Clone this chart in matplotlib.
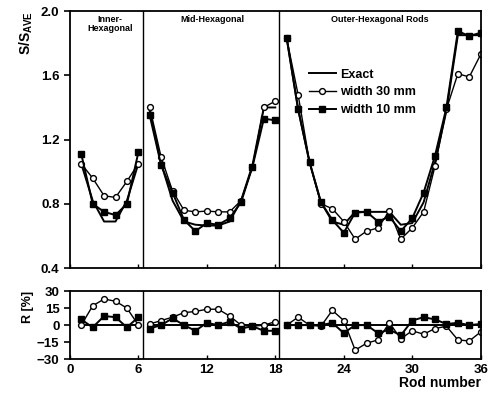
import numpy as np
import matplotlib.pyplot as plt

plt.rcParams['font.family'] = ['Liberation Sans', 'DejaVu Sans']
plt.rcParams['font.weight'] = 'bold'
plt.rcParams['mathtext.fontset'] = 'custom'
plt.rcParams['mathtext.rm'] = 'Liberation Sans:bold'
plt.rcParams['mathtext.it'] = 'Liberation Sans:bold'

rods = np.arange(1, 37)

# S/S_AVE, rods 1-36
exact = [1.05, 0.82, 0.69, 0.69, 0.82, 1.05,
         1.38, 1.05, 0.82, 0.69, 0.67, 0.665, 0.665, 0.69, 0.82, 1.04, 1.40, 1.40,
         1.83, 1.39, 1.06, 0.81, 0.69, 0.67, 0.75, 0.75, 0.75, 0.75, 0.67, 0.68,
         0.81, 1.06, 1.38, 1.85, 1.85, 1.85]
width30 = [1.05, 0.96, 0.85, 0.84, 0.94, 1.05,
           1.40, 1.09, 0.88, 0.76, 0.75, 0.755, 0.75, 0.75, 0.82, 1.03, 1.40, 1.44,
           1.83, 1.48, 1.06, 0.80, 0.77, 0.69, 0.58, 0.63, 0.65, 0.755, 0.58, 0.65,
           0.75, 1.035, 1.39, 1.61, 1.59, 1.73]
width10 = [1.11, 0.80, 0.75, 0.73, 0.80, 1.12,
           1.35, 1.04, 0.87, 0.70, 0.63, 0.68, 0.67, 0.71, 0.81, 1.03, 1.33, 1.32,
           1.835, 1.39, 1.06, 0.81, 0.70, 0.62, 0.745, 0.75, 0.69, 0.72, 0.63, 0.71,
           0.87, 1.10, 1.40, 1.875, 1.845, 1.865]

# R [%]
r30 = [0, 17, 23, 21, 15, 0,
       1, 4, 7, 11, 12, 14, 14, 8, 0, -1, 0, 3,
       0, 7, 0, -1, 13, 4, -22, -16, -13, 2, -12, -5, -8, -3, -1, -13, -14, -6]
r10 = [5, -2, 8, 7, -2, 7,
       -3, 0, 6, 0, -5, 2, 0, 3, -3, -1, -5, -5,
       0, 0, 0, 0, 2, -7, 0, 0, -7, -4, -9, 4, 7, 5, 1, 2, 0, 1]

sections = [(0, 6), (6, 18), (18, 36)]
section_names = ['Inner-\nHexagonal', 'Mid-Hexagonal', 'Outer-Hexagonal Rods']
section_centers = [3.5, 12.5, 27.2]
separators = [6.4, 18.3]

fig = plt.figure(figsize=(4.92, 3.96), dpi=100)
ax1 = fig.add_axes([0.142, 0.323, 0.835, 0.649])
ax2 = fig.add_axes([0.142, 0.093, 0.835, 0.172])

lw = 1.4
ms = 4.2
for i, (a, b) in enumerate(sections):
    x = rods[a:b]
    ax1.plot(x, exact[a:b], '-', color='black', lw=lw,
             label='Exact' if i == 0 else None)
    ax1.plot(x, width30[a:b], '-o', color='black', lw=1.0, ms=ms, mfc='white',
             mec='black', mew=1.0, label='width 30 mm' if i == 0 else None)
    ax1.plot(x, width10[a:b], '-s', color='black', lw=lw, ms=ms - 0.5,
             label='width 10 mm' if i == 0 else None)
    ax2.plot(x, np.zeros(b - a), '-', color='black', lw=lw)
    ax2.plot(x, r30[a:b], '-o', color='black', lw=1.0, ms=ms, mfc='white',
             mec='black', mew=1.0)
    ax2.plot(x, r10[a:b], '-s', color='black', lw=lw, ms=ms - 0.5)

for ax in (ax1, ax2):
    for s in separators:
        ax.axvline(s, color='black', lw=1.0)
    ax.set_xlim(0, 36)
    ax.set_xticks(np.arange(0, 37, 6))
    for sp in ax.spines.values():
        sp.set_linewidth(1.3)
    ax.tick_params(axis='x', direction='in', length=3, width=1.0)
    ax.tick_params(axis='y', direction='out', length=4, width=1.2, labelsize=9.5)

ax1.set_ylim(0.4, 2.0)
ax1.set_yticks([0.4, 0.8, 1.2, 1.6, 2.0])
ax1.tick_params(axis='x', labelbottom=False)
ax1.set_ylabel(r'S/S$_{\mathrm{AVE}}$', fontsize=10, fontweight='bold', loc='top',
               labelpad=4)
for name, cx in zip(section_names, section_centers):
    ax1.text(cx, 1.975, name, ha='center', va='top', fontsize=6.5,
             fontweight='bold', linespacing=1.0)
ax1.legend(loc='upper left', bbox_to_anchor=(0.56, 0.81), frameon=False,
           fontsize=9, handlelength=2.2, handletextpad=0.3, labelspacing=0.45,
           borderpad=0.2)

ax2.set_ylim(-30, 30)
ax2.set_yticks([-30, -15, 0, 15, 30])
ax2.tick_params(axis='x', labelsize=9.5)
ax2.set_ylabel('R [%]', fontsize=9, fontweight='bold', loc='top', labelpad=2)
ax2.set_xlabel('Rod number', fontsize=10, fontweight='bold', loc='right',
               labelpad=0)

fig.savefig('out.png', dpi=100)
